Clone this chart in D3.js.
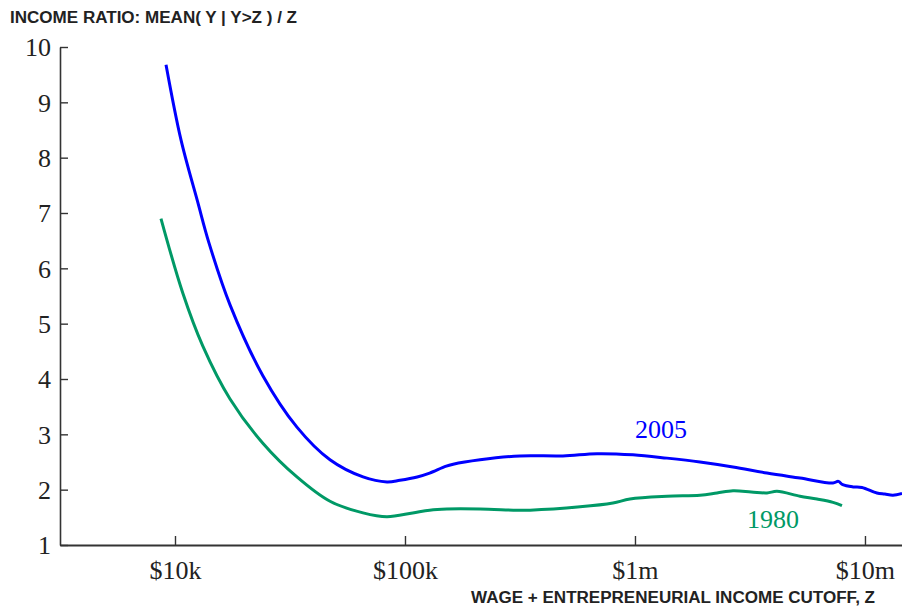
<!DOCTYPE html>
<html>
<head>
<meta charset="utf-8">
<script src="https://cdn.jsdelivr.net/npm/d3@7/dist/d3.min.js"></script>
<style>
  html, body { margin: 0; padding: 0; background: #fff; }
  svg { display: block; }
  .tick-label { font-family: "Liberation Serif", "Times New Roman", serif; font-size: 26px; fill: #222; }
  .caption { font-family: "Liberation Sans", Arial, sans-serif; font-weight: bold; font-size: 16px; fill: #222; }
  .series-label { font-family: "Liberation Serif", "Times New Roman", serif; font-size: 26px; }
</style>
</head>
<body>
<svg id="chart" width="902" height="610"></svg>
<script>
// Income cutoff Z (dollars) and mean income above Z divided by Z
const cutoff2005 = [9140, 10620, 12550, 14050, 17350, 24100, 33900, 47200, 65700, 83500, 95000,
  113000, 128000, 150000, 162000, 212000, 316000, 486000, 684000, 980000, 1377000, 1917000, 2668000,
  3749000, 5218000, 7260000, 7660000, 8000000, 8868000, 9700000, 11270000, 12200000, 13230000, 14490000];
const ratio2005 = [9.68, 8.32, 7.20, 6.46, 5.34, 4.06, 3.13, 2.54, 2.23, 2.14, 2.17,
  2.23, 2.30, 2.42, 2.46, 2.54, 2.61, 2.61, 2.65, 2.63, 2.57, 2.50, 2.41,
  2.30, 2.21, 2.12, 2.15, 2.09, 2.05, 2.04, 1.94, 1.92, 1.90, 1.93];

const cutoff1980 = [8690, 10800, 13200, 17350, 24100, 33900, 47200, 65700, 83500, 108000, 128000, 152000,
  212000, 307000, 350000, 577000, 802000, 951000, 1377000, 1917000, 2273000, 2668000, 3200000,
  3749000, 4144000, 5218000, 6184000, 7260000, 7943000];
const ratio1980 = [6.90, 5.56, 4.60, 3.64, 2.84, 2.23, 1.79, 1.58, 1.51, 1.58, 1.63, 1.65,
  1.65, 1.63, 1.63, 1.69, 1.76, 1.83, 1.88, 1.90, 1.94, 1.98, 1.96,
  1.94, 1.97, 1.88, 1.83, 1.77, 1.71];

const xTickValues = [10000, 100000, 1000000, 10000000];
const xTickLabels = ["$10k", "$100k", "$1m", "$10m"];
const yTickValues = [1, 2, 3, 4, 5, 6, 7, 8, 9, 10];

const yTitle = "INCOME RATIO: MEAN( Y | Y>Z ) / Z";
const xTitle = "WAGE + ENTREPRENEURIAL INCOME CUTOFF, Z";

const svg = d3.select("#chart");
const plotLeft = 60, plotRight = 902, plotTop = 47, plotBottom = 545;

const x = d3.scaleLog().domain([Math.pow(10, 3.5), Math.pow(10, 7.161)]).range([plotLeft, plotRight]);
const y = d3.scaleLinear().domain([1, 10]).range([plotBottom, plotTop]);

const axisColor = "#333";

// y axis: ticks point inward
const yAxis = svg.append("g").attr("transform", `translate(${plotLeft},0)`)
  .call(d3.axisLeft(y).tickValues(yTickValues).tickSizeInner(-8).tickSizeOuter(0).tickPadding(9).tickFormat(d3.format("d")));
yAxis.select(".domain").attr("stroke", axisColor).attr("stroke-width", 1.6);
yAxis.selectAll(".tick line").attr("stroke", axisColor).attr("stroke-width", 1.4);
yAxis.selectAll(".tick text").attr("class", "tick-label").attr("font-size", null).attr("font-family", null)
  .attr("fill", null).attr("dy", "0.34em");

// x axis: ticks point up into the plot
const xAxis = svg.append("g").attr("transform", `translate(0,${plotBottom})`)
  .call(d3.axisBottom(x).tickValues(xTickValues).tickSizeInner(-9).tickSizeOuter(0).tickPadding(16)
    .tickFormat((d, i) => xTickLabels[i]));
xAxis.select(".domain").attr("stroke", axisColor).attr("stroke-width", 2);
xAxis.selectAll(".tick line").attr("stroke", axisColor).attr("stroke-width", 1.4);
xAxis.selectAll(".tick text").attr("class", "tick-label").attr("font-size", null).attr("font-family", null)
  .attr("fill", null).attr("dy", "0.71em");

// axis titles
svg.append("text").attr("class", "caption").attr("x", 10).attr("y", 22.5)
  .attr("textLength", 287).attr("lengthAdjust", "spacingAndGlyphs").text(yTitle);
svg.append("text").attr("class", "caption").attr("x", 471).attr("y", 602.5)
  .attr("textLength", 404).attr("lengthAdjust", "spacingAndGlyphs").text(xTitle);

// series
const line = d3.line().x(d => x(d[0])).y(d => y(d[1])).curve(d3.curveCatmullRom.alpha(0.5));
const series = [
  { name: "2005", xs: cutoff2005, ys: ratio2005, color: "#0000ff", lx: 661, ly: 438 },
  { name: "1980", xs: cutoff1980, ys: ratio1980, color: "#009966", lx: 773, ly: 528 }
];
series.forEach(s => {
  svg.append("path")
    .datum(s.xs.map((v, i) => [v, s.ys[i]]))
    .attr("fill", "none").attr("stroke", s.color).attr("stroke-width", 3)
    .attr("stroke-linejoin", "round")
    .attr("d", line);
  svg.append("text").attr("class", "series-label").attr("x", s.lx).attr("y", s.ly)
    .attr("text-anchor", "middle").attr("fill", s.color).text(s.name);
});
</script>
</body>
</html>
